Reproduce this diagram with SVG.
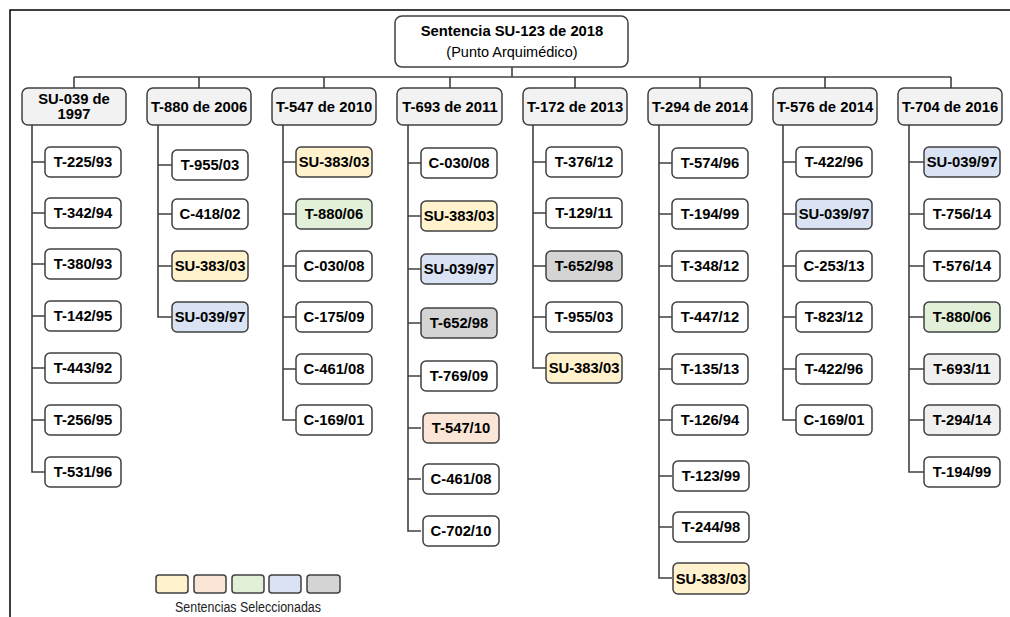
<svg xmlns="http://www.w3.org/2000/svg" width="1010" height="617" viewBox="0 0 1010 617">
<style>
.bx{fill:#fff;stroke:#404040;stroke-width:1.5}
.hd{fill:#f2f2f2;stroke:#404040;stroke-width:1.5}
.y{fill:#fff2cc}.p{fill:#fbe5d6}.g{fill:#e2f0d9}.b{fill:#dae3f3}.k{fill:#d4d4d4}.l{fill:#f0f0f0}
.t{font-family:"Liberation Sans",Arial,sans-serif;font-size:14.8px;font-weight:bold;fill:#000;text-anchor:middle}
.n{font-family:"Liberation Sans",Arial,sans-serif;font-size:14.5px;fill:#000;text-anchor:middle}
.c{fill:none;stroke:#404040;stroke-width:1.6}
</style>
<rect width="1010" height="617" fill="#fff"/>
<path d="M10 617V10H1010" fill="none" stroke="#000" stroke-width="1.5"/>
<g id="connectors" class="c">
<path d="M512 67V77M74 77H951M74 77V88M199 77V88M324 77V88M450 77V88M575 77V88M700 77V88M825 77V88M951 77V88"/>
<path d="M32 125V472H45M32 162H45M32 213H45M32 264H45M32 316H45M32 368H45M32 420H45"/>
<path d="M158 125V317H172M158 165H172M158 214H172M158 266H172"/>
<path d="M283 125V420H296M283 162H296M283 214H296M283 266H296M283 317H296M283 369H296"/>
<path d="M408 125V531H421M408 163H421M408 216H421M408 269H421M408 323H421M408 376H421M408 428H421M408 479H421"/>
<path d="M533 125V368H546M533 162H546M533 213H546M533 266H546M533 317H546"/>
<path d="M659 125V578H672M659 163H672M659 214H672M659 266H672M659 317H672M659 369H672M659 420H672M659 476H672M659 527H672"/>
<path d="M783 125V420H796M783 162H796M783 214H796M783 266H796M783 317H796M783 369H796"/>
<path d="M909 125V472H924M909 162H924M909 214H924M909 266H924M909 317H924M909 369H924M909 420H924"/>
</g>
<g id="root"><rect x="395" y="16" width="233" height="51" rx="7" class="bx"/><text x="512" y="36" class="t">Sentencia SU-123 de 2018</text><text x="512" y="57" class="n">(Punto Arquimédico)</text></g>
<g id="h1"><rect x="22" y="88" width="104" height="37" rx="6" class="hd"/><text x="74" y="104" class="t">SU-039 de</text><text x="74" y="119" class="t">1997</text></g>
<g id="h2"><rect x="147" y="88" width="104" height="37" rx="6" class="hd"/><text x="199" y="112" class="t">T-880 de 2006</text></g>
<g id="h3"><rect x="272" y="88" width="104" height="37" rx="6" class="hd"/><text x="324" y="112" class="t">T-547 de 2010</text></g>
<g id="h4"><rect x="397" y="88" width="105" height="37" rx="6" class="hd"/><text x="450" y="112" class="t">T-693 de 2011</text></g>
<g id="h5"><rect x="523" y="88" width="104" height="37" rx="6" class="hd"/><text x="575" y="112" class="t">T-172 de 2013</text></g>
<g id="h6"><rect x="648" y="88" width="104" height="37" rx="6" class="hd"/><text x="700" y="112" class="t">T-294 de 2014</text></g>
<g id="h7"><rect x="773" y="88" width="104" height="37" rx="6" class="hd"/><text x="825" y="112" class="t">T-576 de 2014</text></g>
<g id="h8"><rect x="898" y="88" width="104" height="37" rx="6" class="hd"/><text x="950" y="112" class="t">T-704 de 2016</text></g>
<g id="c1-1"><rect x="45" y="147" width="76" height="30" rx="5" class="bx"/><text x="83" y="167" class="t">T-225/93</text></g>
<g id="c1-2"><rect x="45" y="198" width="76" height="30" rx="5" class="bx"/><text x="83" y="218" class="t">T-342/94</text></g>
<g id="c1-3"><rect x="45" y="249" width="76" height="30" rx="5" class="bx"/><text x="83" y="269" class="t">T-380/93</text></g>
<g id="c1-4"><rect x="45" y="301" width="76" height="30" rx="5" class="bx"/><text x="83" y="321" class="t">T-142/95</text></g>
<g id="c1-5"><rect x="45" y="353" width="76" height="30" rx="5" class="bx"/><text x="83" y="373" class="t">T-443/92</text></g>
<g id="c1-6"><rect x="45" y="405" width="76" height="30" rx="5" class="bx"/><text x="83" y="425" class="t">T-256/95</text></g>
<g id="c1-7"><rect x="45" y="457" width="76" height="30" rx="5" class="bx"/><text x="83" y="477" class="t">T-531/96</text></g>
<g id="c2-1"><rect x="172" y="150" width="76" height="30" rx="5" class="bx"/><text x="210" y="170" class="t">T-955/03</text></g>
<g id="c2-2"><rect x="172" y="199" width="76" height="30" rx="5" class="bx"/><text x="210" y="219" class="t">C-418/02</text></g>
<g id="c2-3"><rect x="172" y="251" width="76" height="30" rx="5" class="bx y"/><text x="210" y="271" class="t">SU-383/03</text></g>
<g id="c2-4"><rect x="172" y="302" width="76" height="30" rx="5" class="bx b"/><text x="210" y="322" class="t">SU-039/97</text></g>
<g id="c3-1"><rect x="296" y="147" width="76" height="30" rx="5" class="bx y"/><text x="334" y="167" class="t">SU-383/03</text></g>
<g id="c3-2"><rect x="296" y="199" width="76" height="30" rx="5" class="bx g"/><text x="334" y="219" class="t">T-880/06</text></g>
<g id="c3-3"><rect x="296" y="251" width="76" height="30" rx="5" class="bx"/><text x="334" y="271" class="t">C-030/08</text></g>
<g id="c3-4"><rect x="296" y="302" width="76" height="30" rx="5" class="bx"/><text x="334" y="322" class="t">C-175/09</text></g>
<g id="c3-5"><rect x="296" y="354" width="76" height="30" rx="5" class="bx"/><text x="334" y="374" class="t">C-461/08</text></g>
<g id="c3-6"><rect x="296" y="405" width="76" height="30" rx="5" class="bx"/><text x="334" y="425" class="t">C-169/01</text></g>
<g id="c4-1"><rect x="421" y="148" width="76" height="30" rx="5" class="bx"/><text x="459" y="168" class="t">C-030/08</text></g>
<g id="c4-2"><rect x="421" y="201" width="76" height="30" rx="5" class="bx y"/><text x="459" y="221" class="t">SU-383/03</text></g>
<g id="c4-3"><rect x="421" y="254" width="76" height="30" rx="5" class="bx b"/><text x="459" y="274" class="t">SU-039/97</text></g>
<g id="c4-4"><rect x="421" y="308" width="76" height="30" rx="5" class="bx k"/><text x="459" y="328" class="t">T-652/98</text></g>
<g id="c4-5"><rect x="421" y="361" width="76" height="30" rx="5" class="bx"/><text x="459" y="381" class="t">T-769/09</text></g>
<g id="c4-6"><rect x="423" y="413" width="76" height="30" rx="5" class="bx p"/><text x="461" y="433" class="t">T-547/10</text></g>
<g id="c4-7"><rect x="423" y="464" width="76" height="30" rx="5" class="bx"/><text x="461" y="484" class="t">C-461/08</text></g>
<g id="c4-8"><rect x="423" y="516" width="76" height="30" rx="5" class="bx"/><text x="461" y="536" class="t">C-702/10</text></g>
<g id="c5-1"><rect x="546" y="147" width="76" height="30" rx="5" class="bx"/><text x="584" y="167" class="t">T-376/12</text></g>
<g id="c5-2"><rect x="546" y="198" width="76" height="30" rx="5" class="bx"/><text x="584" y="218" class="t">T-129/11</text></g>
<g id="c5-3"><rect x="546" y="251" width="76" height="30" rx="5" class="bx k"/><text x="584" y="271" class="t">T-652/98</text></g>
<g id="c5-4"><rect x="546" y="302" width="76" height="30" rx="5" class="bx"/><text x="584" y="322" class="t">T-955/03</text></g>
<g id="c5-5"><rect x="546" y="353" width="76" height="30" rx="5" class="bx y"/><text x="584" y="373" class="t">SU-383/03</text></g>
<g id="c6-1"><rect x="672" y="148" width="76" height="30" rx="5" class="bx"/><text x="710" y="168" class="t">T-574/96</text></g>
<g id="c6-2"><rect x="672" y="199" width="76" height="30" rx="5" class="bx"/><text x="710" y="219" class="t">T-194/99</text></g>
<g id="c6-3"><rect x="672" y="251" width="76" height="30" rx="5" class="bx"/><text x="710" y="271" class="t">T-348/12</text></g>
<g id="c6-4"><rect x="672" y="302" width="76" height="30" rx="5" class="bx"/><text x="710" y="322" class="t">T-447/12</text></g>
<g id="c6-5"><rect x="672" y="354" width="76" height="30" rx="5" class="bx"/><text x="710" y="374" class="t">T-135/13</text></g>
<g id="c6-6"><rect x="672" y="405" width="76" height="30" rx="5" class="bx"/><text x="710" y="425" class="t">T-126/94</text></g>
<g id="c6-7"><rect x="673" y="461" width="76" height="30" rx="5" class="bx"/><text x="711" y="481" class="t">T-123/99</text></g>
<g id="c6-8"><rect x="673" y="512" width="76" height="30" rx="5" class="bx"/><text x="711" y="532" class="t">T-244/98</text></g>
<g id="c6-9"><rect x="673" y="563" width="76" height="31" rx="5" class="bx y"/><text x="711" y="584" class="t">SU-383/03</text></g>
<g id="c7-1"><rect x="796" y="147" width="76" height="30" rx="5" class="bx"/><text x="834" y="167" class="t">T-422/96</text></g>
<g id="c7-2"><rect x="796" y="199" width="76" height="30" rx="5" class="bx b"/><text x="834" y="219" class="t">SU-039/97</text></g>
<g id="c7-3"><rect x="796" y="251" width="76" height="30" rx="5" class="bx"/><text x="834" y="271" class="t">C-253/13</text></g>
<g id="c7-4"><rect x="796" y="302" width="76" height="30" rx="5" class="bx"/><text x="834" y="322" class="t">T-823/12</text></g>
<g id="c7-5"><rect x="796" y="354" width="76" height="30" rx="5" class="bx"/><text x="834" y="374" class="t">T-422/96</text></g>
<g id="c7-6"><rect x="796" y="405" width="76" height="30" rx="5" class="bx"/><text x="834" y="425" class="t">C-169/01</text></g>
<g id="c8-1"><rect x="924" y="147" width="76" height="30" rx="5" class="bx b"/><text x="962" y="167" class="t">SU-039/97</text></g>
<g id="c8-2"><rect x="924" y="199" width="76" height="30" rx="5" class="bx"/><text x="962" y="219" class="t">T-756/14</text></g>
<g id="c8-3"><rect x="924" y="251" width="76" height="30" rx="5" class="bx"/><text x="962" y="271" class="t">T-576/14</text></g>
<g id="c8-4"><rect x="924" y="302" width="76" height="30" rx="5" class="bx g"/><text x="962" y="322" class="t">T-880/06</text></g>
<g id="c8-5"><rect x="924" y="354" width="76" height="30" rx="5" class="bx l"/><text x="962" y="374" class="t">T-693/11</text></g>
<g id="c8-6"><rect x="924" y="405" width="76" height="30" rx="5" class="bx l"/><text x="962" y="425" class="t">T-294/14</text></g>
<g id="c8-7"><rect x="924" y="457" width="76" height="30" rx="5" class="bx"/><text x="962" y="477" class="t">T-194/99</text></g>
<g id="legend">
<rect x="156" y="575" width="32" height="18" rx="3" class="bx y"/>
<rect x="194" y="575" width="32" height="18" rx="3" class="bx p"/>
<rect x="232" y="575" width="32" height="18" rx="3" class="bx g"/>
<rect x="269" y="575" width="32" height="18" rx="3" class="bx b"/>
<rect x="307" y="575" width="33" height="18" rx="3" class="bx k"/>
<text x="248" y="612" font-family="'Liberation Sans',Arial,sans-serif" font-size="15.5" fill="#222" text-anchor="middle" textLength="146" lengthAdjust="spacingAndGlyphs">Sentencias Seleccionadas</text>
</g>
</svg>
